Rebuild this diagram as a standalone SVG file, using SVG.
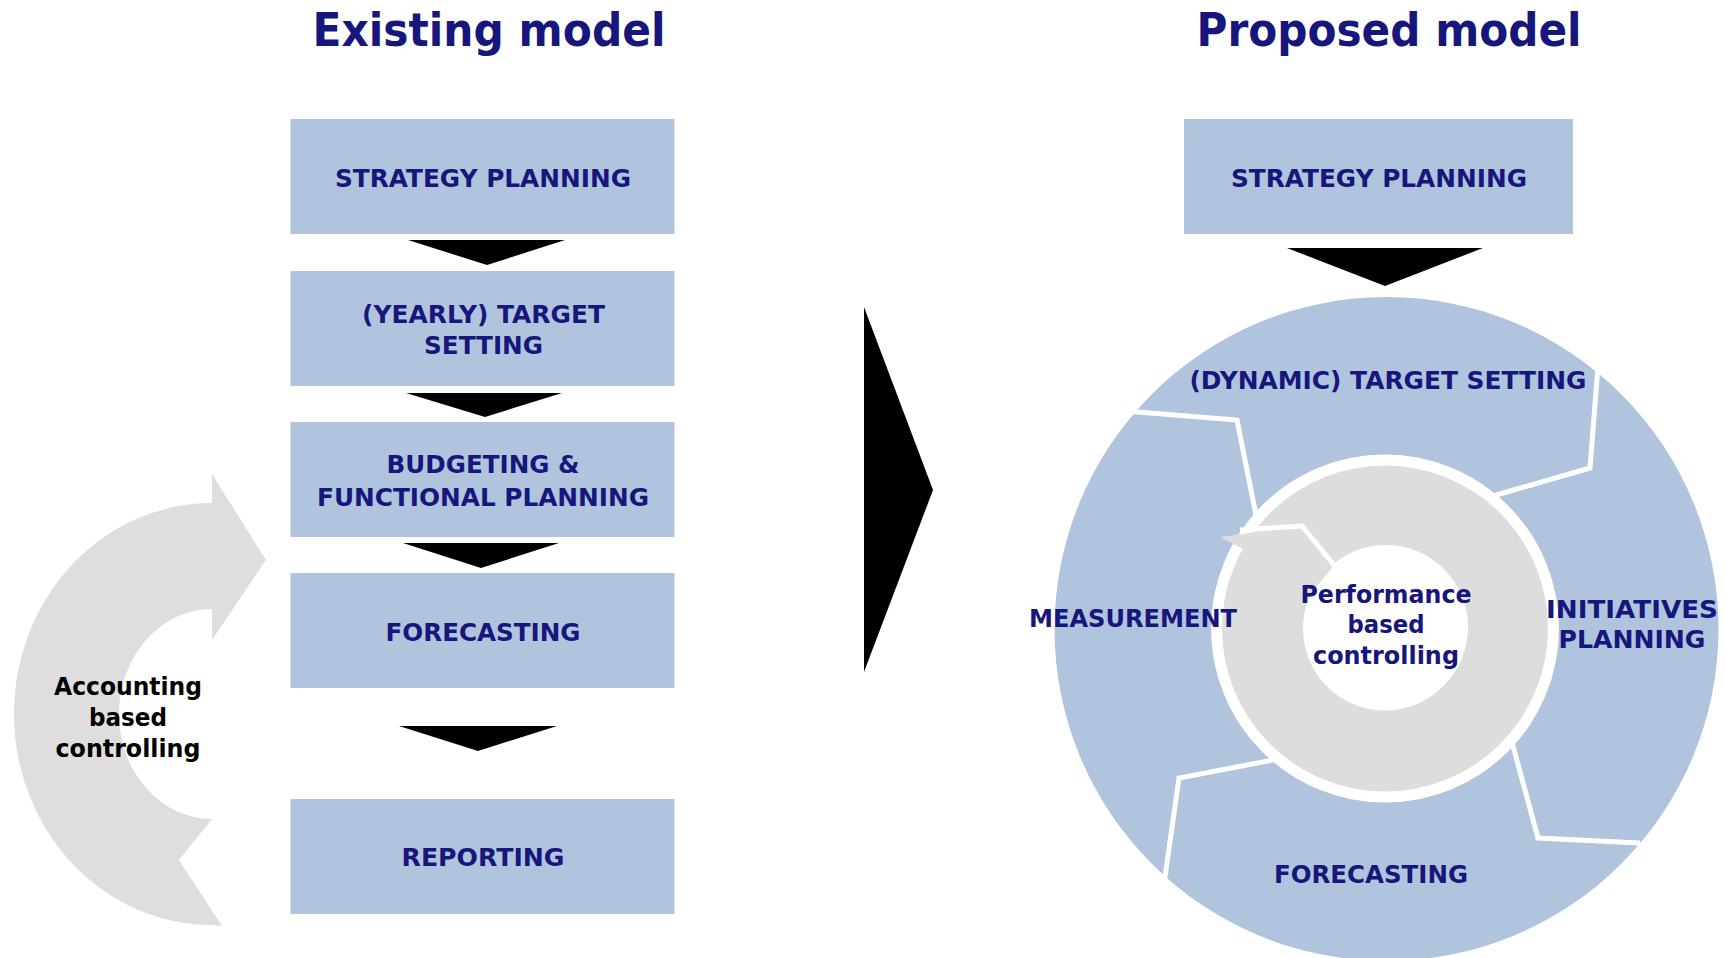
<svg xmlns="http://www.w3.org/2000/svg" width="1726" height="958" viewBox="0 0 1726 958">
<style>
.box{fill:#B0C4DE}
.lbl{font-family:"DejaVu Sans","Liberation Sans",sans-serif;font-weight:bold;font-size:25px;fill:#16167C;text-anchor:middle}
.title{font-family:"DejaVu Sans","Liberation Sans",sans-serif;font-weight:bold;font-size:46px;fill:#16167C;text-anchor:middle}
.blk{fill:#000}
.acc{font-family:"DejaVu Sans","Liberation Sans",sans-serif;font-weight:bold;font-size:25px;fill:#000;text-anchor:middle}
.gap{fill:none;stroke:#fff;stroke-width:5;stroke-linejoin:miter}
</style>
<rect width="1726" height="958" fill="#fff"/>
<text class="title" x="489" y="46" textLength="353" lengthAdjust="spacingAndGlyphs">Existing model</text>
<text class="title" x="1389" y="46" textLength="385" lengthAdjust="spacingAndGlyphs">Proposed model</text>

<g id="acc-arrow">
<path d="M212,503 A198,211 0 0 0 212,925 L222,926 L179,860 L212,819 A93,105 0 0 1 212,609 L212,640 L266,560 L212,474 Z" fill="#DEDEDE"/>
<text class="acc" x="128" y="695" textLength="148" lengthAdjust="spacingAndGlyphs">Accounting</text>
<text class="acc" x="128" y="726" textLength="78" lengthAdjust="spacingAndGlyphs">based</text>
<text class="acc" x="128" y="757" textLength="145" lengthAdjust="spacingAndGlyphs">controlling</text>
</g>

<g id="ex-strategy"><rect class="box" x="290.5" y="119" width="384" height="115"/>
<text class="lbl" x="483" y="187" textLength="296" lengthAdjust="spacingAndGlyphs">STRATEGY PLANNING</text></g>
<g id="ex-target"><rect class="box" x="290.5" y="271" width="384" height="115"/>
<text class="lbl" x="483.5" y="323" textLength="243" lengthAdjust="spacingAndGlyphs">(YEARLY) TARGET</text>
<text class="lbl" x="483.5" y="354" textLength="119" lengthAdjust="spacingAndGlyphs">SETTING</text></g>
<g id="ex-budget"><rect class="box" x="290.5" y="422" width="384" height="115"/>
<text class="lbl" x="483" y="473" textLength="193" lengthAdjust="spacingAndGlyphs">BUDGETING &amp;</text>
<text class="lbl" x="483" y="506" textLength="332" lengthAdjust="spacingAndGlyphs">FUNCTIONAL PLANNING</text></g>
<g id="ex-forecast"><rect class="box" x="290.5" y="573" width="384" height="115"/>
<text class="lbl" x="483" y="641" textLength="195" lengthAdjust="spacingAndGlyphs">FORECASTING</text></g>
<g id="ex-report"><rect class="box" x="290.5" y="799" width="384" height="115"/>
<text class="lbl" x="483" y="866" textLength="163" lengthAdjust="spacingAndGlyphs">REPORTING</text></g>

<g id="pr-strategy"><rect class="box" x="1184" y="119" width="389" height="115"/>
<text class="lbl" x="1379" y="187" textLength="296" lengthAdjust="spacingAndGlyphs">STRATEGY PLANNING</text></g>

<g id="pr-cycle">
<circle cx="1386.5" cy="629" r="332" fill="#B0C4DE"/>
<polyline class="gap" points="1125,411 1237,420 1256,515"/>
<polyline class="gap" points="1598,366 1590,468 1493,496"/>
<polyline class="gap" points="1510,735 1538,838 1640,843"/>
<polyline class="gap" points="1273,760 1179,778 1164,884"/>
<circle cx="1385" cy="628.5" r="174" fill="#fff"/>
<circle cx="1385" cy="628.5" r="122.5" fill="none" stroke="#DDDDDD" stroke-width="81"/>
<circle cx="1386" cy="627" r="82" fill="#fff"/>
<polygon points="1220,537 1302,526 1334,566 1316,587" fill="#DDDDDD"/>
<polyline class="gap" points="1240,530 1302,526 1334,565 1339,592"/>
<text class="lbl" x="1388" y="389" textLength="397" lengthAdjust="spacingAndGlyphs">(DYNAMIC) TARGET SETTING</text>
<text class="lbl" x="1133" y="627" textLength="208" lengthAdjust="spacingAndGlyphs">MEASUREMENT</text>
<text class="lbl" x="1632" y="618" textLength="172" lengthAdjust="spacingAndGlyphs">INITIATIVES</text>
<text class="lbl" x="1632" y="648" textLength="147" lengthAdjust="spacingAndGlyphs">PLANNING</text>
<text class="lbl" x="1371" y="883" textLength="194" lengthAdjust="spacingAndGlyphs">FORECASTING</text>
<text class="lbl" x="1386" y="603" textLength="171" lengthAdjust="spacingAndGlyphs">Performance</text>
<text class="lbl" x="1386" y="633" textLength="77" lengthAdjust="spacingAndGlyphs">based</text>
<text class="lbl" x="1386" y="664" textLength="146" lengthAdjust="spacingAndGlyphs">controlling</text>
</g>

<g id="connectors">
<polygon class="blk" points="408,240 565,240 487,265"/>
<polygon class="blk" points="406,393 562,393 485,417"/>
<polygon class="blk" points="403,543 559,543 481,568"/>
<polygon class="blk" points="399,726 557,726 478,751"/>
<polygon class="blk" points="1287,248 1483,248 1385,286"/>
<polygon class="blk" points="864,307 933,490 864,672"/>
</g>
</svg>
